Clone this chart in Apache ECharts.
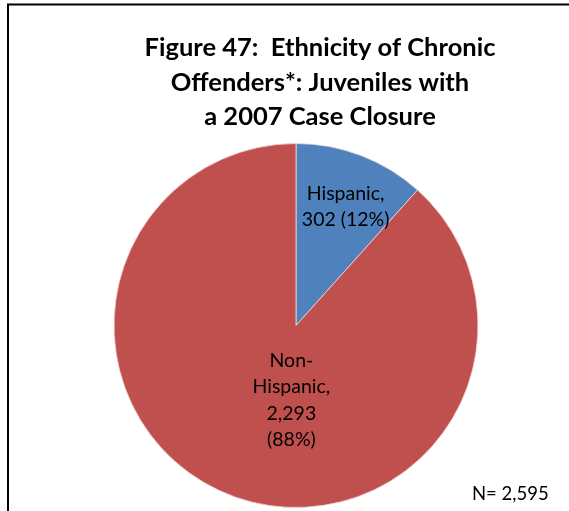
<!DOCTYPE html>
<html>
<head>
<meta charset="utf-8">
<script src="https://cdn.jsdelivr.net/npm/echarts@6/dist/echarts.min.js"></script>
<style>
html,body{margin:0;padding:0;background:#fff;}
#chart{width:569px;height:511px;}
</style>
</head>
<body>
<div id="chart"></div>
<script>
var categories = ['Hispanic', 'Non-\nHispanic'];
var values = [302, 2293];
var percents = ['12%', '88%'];
var colors = ['#4F81BD', '#C0504D'];
var titleText = 'Figure 47:  Ethnicity of Chronic\nOffenders*: Juveniles with\na 2007 Case Closure';
var noteText = 'N= 2,595';

var labelShift = [[16, -31], [29, -13]];

function fmt(n){ return n.toString().replace(/\B(?=(\d{3})+(?!\d))/g, ','); }

var chart = echarts.init(document.getElementById('chart'));
chart.setOption({
  animation: false,
  backgroundColor: '#fff',
  title: {
    text: titleText,
    left: 315,
    top: 26,
    textAlign: 'center',
    textStyle: {fontFamily: 'Lato', fontWeight: 'bold', fontSize: 25.5, lineHeight: 34.5, color: '#000'}
  },
  graphic: [
    {type: 'rect', shape: {x: 8, y: 4.5, width: 700, height: 700}, style: {fill: 'none', stroke: '#000', lineWidth: 2}, silent: true},
    {type: 'text', left: 472, top: 485, style: {text: noteText, font: '18.5px Lato', fill: '#000'}}
  ],
  series: [{
    type: 'pie',
    center: [296, 325.5],
    radius: [0, 182],
    startAngle: 90,
    clockwise: true,
    data: categories.map(function(c, i){
      return {name: c, value: values[i], itemStyle: {color: colors[i]}};
    }),
    itemStyle: {borderColor: '#f3d9d8', borderWidth: 0.8},
    label: {
      position: 'inside',
      fontFamily: 'Lato',
      fontSize: 19.5,
      lineHeight: 26.5,
      color: '#000',
      formatter: function(p){
        var pc = percents[p.dataIndex];
        if (p.dataIndex === 0) return p.name + ',\n' + fmt(p.value) + ' (' + pc + ')';
        return p.name + ',\n' + fmt(p.value) + '\n(' + pc + ')';
      }
    },
    labelLine: {show: false},
    labelLayout: function(params){
      var s = labelShift[params.dataIndex];
      return {dx: s[0], dy: s[1]};
    },
    emphasis: {disabled: true}
  }]
});
</script>
</body>
</html>
